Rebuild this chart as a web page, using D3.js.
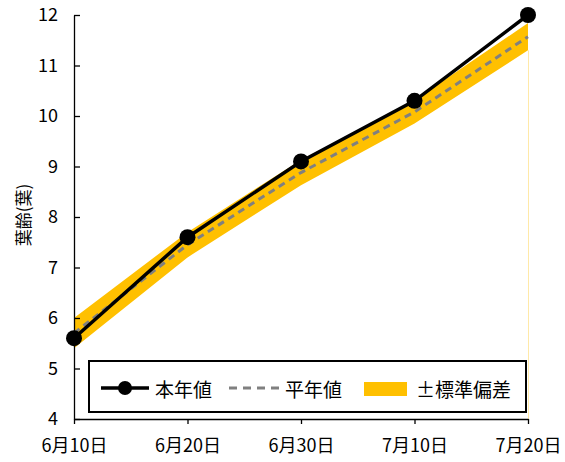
<!DOCTYPE html>
<html><head><meta charset="utf-8">
<script src="https://cdn.jsdelivr.net/npm/d3@7/dist/d3.min.js"></script>
<style>
html,body{margin:0;padding:0;background:#fff;}
svg text{font-family:"Noto Sans CJK JP","Noto Sans",sans-serif;fill:#000;}
</style></head>
<body><svg id="c" width="565" height="462"></svg>
<script>
const dates = ["6月10日","6月20日","6月30日","7月10日","7月20日"];
const thisYear = [5.6, 7.6, 9.1, 10.3, 12.0];
const normalYear = [5.7, 7.45, 8.88, 10.08, 11.57];
const stdDev = [0.3, 0.25, 0.25, 0.23, 0.27];
const yTicks = [4,5,6,7,8,9,10,11,12];
const legendLabels = ["本年値","平年値","±標準偏差"];

const svg = d3.select("#c");
const x = d3.scaleLinear().domain([0, dates.length-1]).range([74, 528]);
const y = d3.scaleLinear().domain([4, 12]).range([419, 15]);
const idx = dates.map((d,i)=>i);

// band
const area = d3.area().x(i=>x(i)).y0(i=>y(normalYear[i]-stdDev[i])).y1(i=>y(normalYear[i]+stdDev[i]));
svg.append("path").datum(idx).attr("d", area).attr("fill","#FFC000");
const last = idx.length-1;
svg.append("line").attr("x1",x(last)+0.5).attr("x2",x(last)+0.5)
  .attr("y1",y(normalYear[last]-stdDev[last])).attr("y2",y(4))
  .attr("stroke","#FFE9A8").attr("stroke-width",1);

// axes
const ax = d3.axisLeft(y).tickValues(yTicks).tickSizeInner(-6).tickSizeOuter(0).tickPadding(16);
const gy = svg.append("g").attr("transform","translate(74,0)").call(ax);
gy.selectAll("text").style("font-size","18px").style("fill","#000");
const bx = d3.axisBottom(x).tickValues(idx).tickFormat(i=>dates[i]).tickSizeInner(5).tickSizeOuter(0).tickPadding(15);
const gx = svg.append("g").attr("transform","translate(0,419)").call(bx);
gx.selectAll("text").style("font-size","18px").style("fill","#000");
svg.selectAll(".domain, .tick line").attr("stroke","#000").attr("stroke-width",1.3);

// y label
svg.append("text").attr("transform","translate(22,215) rotate(-90)")
  .attr("text-anchor","middle").attr("dominant-baseline","central")
  .style("font-size","17px").style("fill","#000").text("葉齢(葉)");

// normal dashed line
const lineN = d3.line().x(i=>x(i)).y(i=>y(normalYear[i]));
svg.append("path").datum(idx).attr("d", lineN).attr("fill","none")
  .attr("stroke","#808080").attr("stroke-width",3).attr("stroke-dasharray","7,5");

// this year line
const lineT = d3.line().x(i=>x(i)).y(i=>y(thisYear[i]));
svg.append("path").datum(idx).attr("d", lineT).attr("fill","none")
  .attr("stroke","#000").attr("stroke-width",3.5);
svg.selectAll("circle.m").data(idx).enter().append("circle")
  .attr("cx",i=>x(i)).attr("cy",i=>y(thisYear[i])).attr("r",8).attr("fill","#000");

// legend
const lg = svg.append("g");
lg.append("rect").attr("x",89).attr("y",361).attr("width",437).attr("height",51)
  .attr("fill","#fff").attr("stroke","#000").attr("stroke-width",2);
const ly = 388;
lg.append("line").attr("x1",101).attr("x2",149).attr("y1",ly).attr("y2",ly)
  .attr("stroke","#000").attr("stroke-width",3.5);
lg.append("circle").attr("cx",125).attr("cy",ly).attr("r",7).attr("fill","#000");
lg.append("text").attr("x",155).attr("y",ly).attr("dominant-baseline","central")
  .style("font-size","19px").text(legendLabels[0]);
lg.append("line").attr("x1",229).attr("x2",282).attr("y1",ly).attr("y2",ly)
  .attr("stroke","#808080").attr("stroke-width",3).attr("stroke-dasharray","8,6");
lg.append("text").attr("x",285).attr("y",ly).attr("dominant-baseline","central")
  .style("font-size","19px").text(legendLabels[1]);
lg.append("rect").attr("x",364).attr("y",382).attr("width",43).attr("height",14).attr("fill","#FFC000");
lg.append("text").attr("x",416).attr("y",ly).attr("dominant-baseline","central")
  .style("font-size","19px").text(legendLabels[2]);
</script></body></html>
